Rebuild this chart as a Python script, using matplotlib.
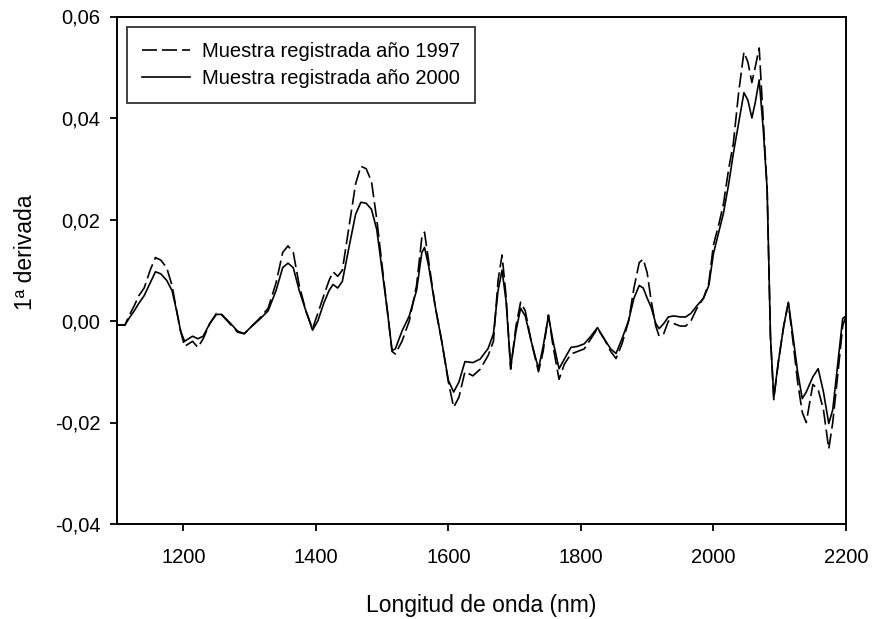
import matplotlib
matplotlib.use("Agg")
import matplotlib.pyplot as plt
from matplotlib.ticker import FuncFormatter

plt.rcParams['font.family'] = ['Liberation Sans', 'DejaVu Sans']

wavelength = [1100, 1112, 1118, 1126, 1133, 1141, 1150, 1158, 1166, 1175, 1183, 1190, 1196, 1202, 1208,
              1214, 1222, 1230, 1240, 1250, 1258, 1270, 1282, 1292, 1302, 1315, 1328, 1340, 1350, 1358,
              1366, 1375, 1385, 1395, 1403, 1412, 1420, 1426, 1433, 1440, 1450, 1460, 1468, 1476, 1484,
              1492, 1500, 1508, 1515, 1520, 1530, 1541, 1552, 1560, 1564, 1570, 1580, 1590, 1600, 1608,
              1616, 1625, 1637, 1648, 1660, 1668, 1675, 1681, 1687, 1694, 1702, 1709, 1716, 1725, 1736,
              1743, 1751, 1758, 1767, 1775, 1785, 1795, 1805, 1815, 1825, 1835, 1845, 1853, 1862, 1872,
              1880, 1888, 1894, 1900, 1906, 1913, 1918, 1925, 1932, 1940, 1950, 1958, 1966, 1975, 1985,
              1993, 2000, 2008, 2015, 2023, 2030, 2038, 2046, 2052, 2058, 2063, 2069, 2075, 2081, 2086,
              2091, 2098, 2106, 2113, 2120, 2127, 2134, 2140, 2150, 2158, 2166, 2174, 2180, 2188, 2195,
              2200]

muestra_2000 = [-0.0008, -0.0008, 0.0005, 0.002, 0.0035, 0.005, 0.0075, 0.0097, 0.0093, 0.008, 0.006, 0.002,
                -0.002, -0.004, -0.0035, -0.003, -0.0035, -0.003, -0.0005, 0.0013, 0.0013, -0.0003, -0.002,
                -0.0025, -0.0012, 0.0003, 0.002, 0.006, 0.0105, 0.0114, 0.0105, 0.006, 0.002, -0.0018, 0.0,
                0.0035, 0.006, 0.0072, 0.0065, 0.0078, 0.0145, 0.021, 0.0234, 0.0232, 0.022, 0.018, 0.010,
                0.002, -0.0058, -0.0055, -0.002, 0.001, 0.006, 0.0135, 0.0145, 0.011, 0.003, -0.004, -0.0117,
                -0.014, -0.012, -0.008, -0.0082, -0.0075, -0.0054, -0.0025, 0.006, 0.010, 0.004, -0.009,
                -0.002, 0.0025, 0.001, -0.004, -0.0094, -0.005, 0.001, -0.004, -0.0094, -0.0075, -0.0052,
                -0.005, -0.0045, -0.003, -0.0013, -0.0035, -0.0055, -0.0064, -0.0035, 0.0001, 0.0045, 0.007,
                0.0065, 0.0045, 0.0027, -0.0005, -0.0015, -0.0005, 0.0008, 0.001, 0.0008, 0.0008, 0.0015,
                0.003, 0.0045, 0.007, 0.0133, 0.0175, 0.0212, 0.027, 0.033, 0.039, 0.045, 0.0435, 0.040,
                0.043, 0.0475, 0.038, 0.026, -0.003, -0.015, -0.008, -0.001, 0.0037, -0.003, -0.010, -0.0153,
                -0.014, -0.011, -0.0094, -0.014, -0.0202, -0.0175, -0.008, 0.0005, 0.001]

muestra_1997 = [-0.0008, -0.0008, 0.001, 0.003, 0.005, 0.0065, 0.010, 0.0125, 0.012, 0.0105, 0.007, 0.002,
                -0.002, -0.005, -0.0045, -0.004, -0.0052, -0.0035, -0.0005, 0.0015, 0.0012, -0.0005, -0.0022,
                -0.0025, -0.0012, 0.0005, 0.0025, 0.0075, 0.0135, 0.0148, 0.0135, 0.007, 0.002, -0.0015, 0.0015,
                0.005, 0.008, 0.0097, 0.0088, 0.010, 0.0185, 0.027, 0.0305, 0.030, 0.0275, 0.020, 0.011,
                0.002, -0.006, -0.0065, -0.004, 0.0, 0.007, 0.0165, 0.0175, 0.012, 0.003, -0.004, -0.012,
                -0.017, -0.015, -0.010, -0.0108, -0.0095, -0.0068, -0.004, 0.008, 0.013, 0.005, -0.0095,
                -0.001, 0.0037, 0.002, -0.004, -0.010, -0.006, 0.0012, -0.005, -0.0115, -0.0085, -0.0065,
                -0.006, -0.0055, -0.0035, -0.0015, -0.0035, -0.006, -0.0074, -0.0045, 0.0, 0.0065, 0.0115,
                0.0122, 0.0095, 0.004, -0.001, -0.003, -0.0025, 0.0, -0.0005, -0.001, -0.001, 0.0,
                0.0025, 0.0045, 0.0075, 0.015, 0.019, 0.023, 0.030, 0.035, 0.045, 0.053, 0.051, 0.047,
                0.050, 0.0538, 0.040, 0.026, -0.003, -0.0155, -0.008, -0.001, 0.0035, -0.004, -0.012, -0.018,
                -0.020, -0.0125, -0.0135, -0.0175, -0.0252, -0.020, -0.010, -0.001, 0.001]

series_labels = ["Muestra registrada año 1997", "Muestra registrada año 2000"]
x_ticks = [1200, 1400, 1600, 1800, 2000, 2200]
y_ticks = [-0.04, -0.02, 0.0, 0.02, 0.04, 0.06]

fig = plt.figure(figsize=(8.72, 6.19), dpi=100)
ax = fig.add_axes([117/872, 1 - 524/619, (846 - 117)/872, (524 - 16.5)/619])

ax.plot(wavelength, muestra_1997, color='black', lw=1.2, dashes=(9, 3), label=series_labels[0])
ax.plot(wavelength, muestra_2000, color='black', lw=1.2, label=series_labels[1])

ax.set_xlim(1100, 2200)
ax.set_ylim(-0.04, 0.06)
ax.set_xticks(x_ticks)
ax.set_yticks(y_ticks)
ax.yaxis.set_major_formatter(FuncFormatter(lambda v, p: f"{v:.2f}".replace('.', ',').replace('-0,00', '0,00')))
ax.tick_params(direction='out', length=5, width=1.3, labelsize=14.5, top=False, right=False)
ax.tick_params(axis='y', pad=7)
ax.tick_params(axis='x', pad=12)
for s in ax.spines.values():
    s.set_linewidth(1.4)

ax.set_xlabel("Longitud de onda (nm)", fontsize=16.5, labelpad=20)
ax.set_ylabel("1ª derivada", fontsize=16.5)
ax.yaxis.set_label_coords(-0.11, 0.535)

leg = ax.legend(loc='upper left', fontsize=14.5, frameon=True, fancybox=False,
                edgecolor='black', handlelength=2.35, borderaxespad=0.5, borderpad=0.75,
                labelspacing=0.4, handletextpad=0.6)
leg.get_frame().set_linewidth(1.3)

fig.savefig("out.png", dpi=100)
